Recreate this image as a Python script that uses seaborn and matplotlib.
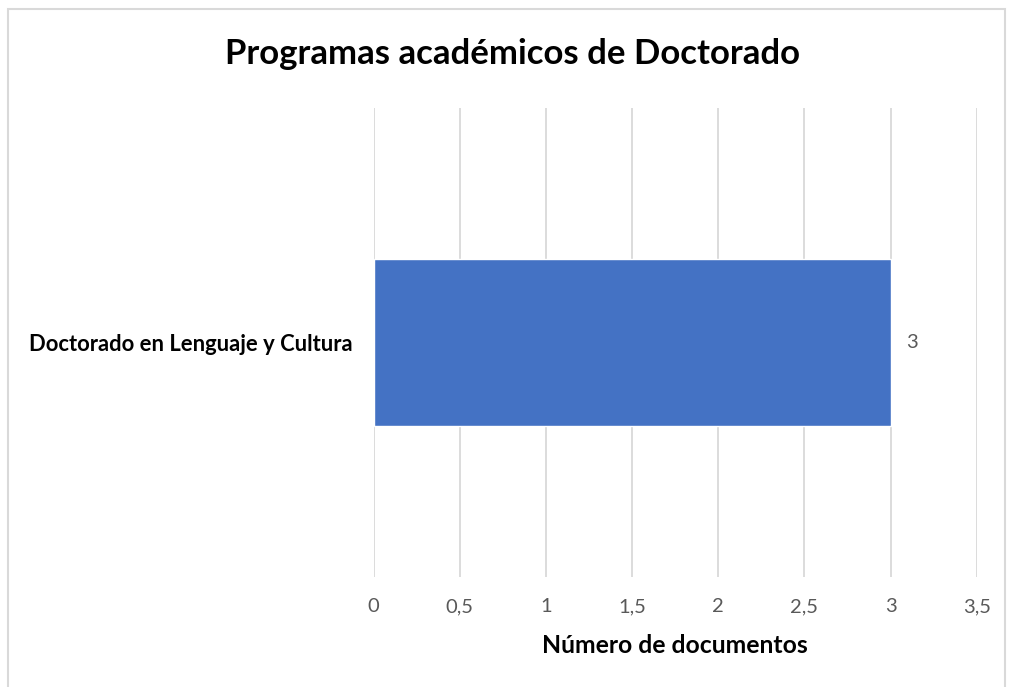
import pandas as pd
import matplotlib.pyplot as plt
import seaborn as sns
from matplotlib.patches import Rectangle

# Datos del gráfico
programas = ["Doctorado en Lenguaje y Cultura"]
documentos = [3]
ticks_x = [0, 0.5, 1, 1.5, 2, 2.5, 3, 3.5]
etiquetas_x = ["0", "0,5", "1", "1,5", "2", "2,5", "3", "3,5"]

df = pd.DataFrame({"Programa": programas, "Documentos": documentos})

sns.set_theme(style="white")
plt.rcParams['font.family'] = ['Lato', 'DejaVu Sans']

fig = plt.figure(figsize=(10.1, 6.87), dpi=100)
ax = fig.add_axes([0.370, 0.160, 0.597, 0.683])

sns.barplot(data=df, x="Documentos", y="Programa", color="#4472C4",
            width=0.354, saturation=1, ax=ax, zorder=3)

ax.set_xlim(0, 3.5)
ax.set_ylim(0.5, -0.5)
ax.set_xticks(ticks_x)
ax.set_xticklabels(etiquetas_x, color="#595959", fontsize=14.5)
ax.tick_params(axis="x", length=0, pad=15)
ax.tick_params(axis="y", length=0, pad=15)
for lbl in ax.get_yticklabels():
    lbl.set_fontweight("bold")
    lbl.set_fontsize(15.8)
    lbl.set_color("black")
ax.grid(axis="x", color="#d9d9d9", linewidth=1.3, zorder=0)
for s in ax.spines.values():
    s.set_visible(False)

ax.set_ylabel("")
ax.set_xlabel("Número de documentos", fontsize=17.8, fontweight="bold",
              labelpad=14, color="black")

# Etiqueta de valor
for i, v in enumerate(documentos):
    ax.text(v + 0.09, i, str(v), va="center", ha="left", fontsize=14.5, color="#595959")

fig.text(0.5075, 0.922, "Programas académicos de Doctorado", fontsize=25,
         fontweight="bold", ha="center", va="center", color="black")

# Borde del área del gráfico
fig.patches.append(Rectangle((0.008, -0.01), 0.987, 0.997, transform=fig.transFigure,
                             fill=False, edgecolor="#d9d9d9", linewidth=1.5))

fig.savefig("out.png", dpi=100)
